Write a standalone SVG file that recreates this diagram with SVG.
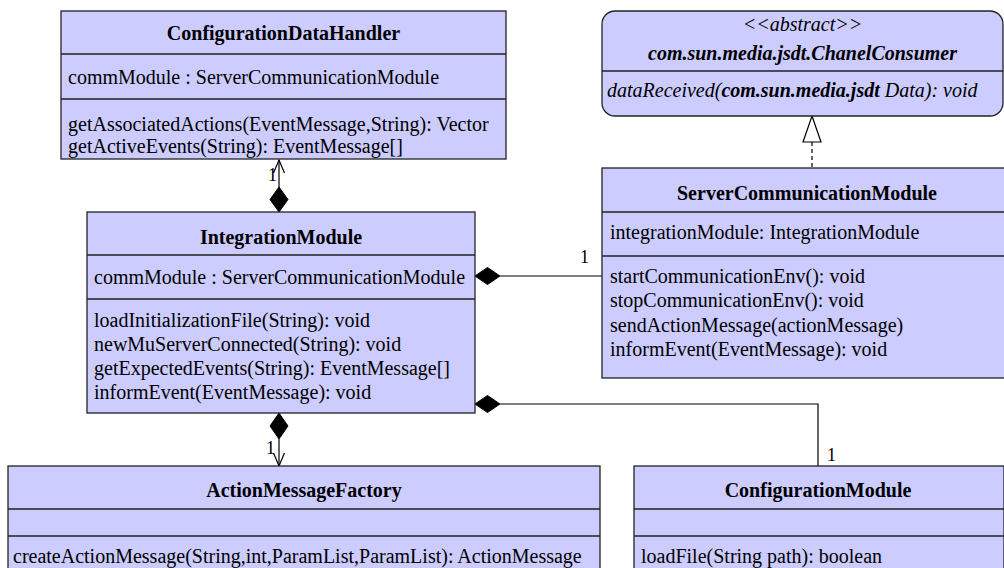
<svg xmlns="http://www.w3.org/2000/svg" width="1004" height="568" viewBox="0 0 1004 568">
<style>
.box{fill:#ccccff;stroke:#222;stroke-width:1.3}
.sep{stroke:#222;stroke-width:1.3}
.t{font-family:"Liberation Serif","Times New Roman",serif;font-size:20px;fill:#000}
.title{font-weight:bold;text-anchor:middle}
.it{font-style:italic}
.line{fill:none;stroke:#000;stroke-width:1.2}
.dia{fill:#000;stroke:#000;stroke-width:1}
.lbl{font-family:"Liberation Serif","Times New Roman",serif;font-size:18px;fill:#000}
</style>
<rect width="1004" height="568" fill="#fff"/>
<g id="connectors">
  <!-- CDH - IM -->
  <line class="line" x1="279" y1="160" x2="279" y2="188"/>
  <polyline class="line" points="273.5,173 279,160 284.5,173"/>
  <polygon class="dia" points="279,187 288,199.5 279,212 270,199.5"/>
  <text class="lbl" x="277" y="181" text-anchor="end">1</text>
  <!-- IM - AMF -->
  <polygon class="dia" points="279,413 288,426 279,439 270,426"/>
  <line class="line" x1="279" y1="439" x2="279" y2="466"/>
  <polyline class="line" points="273.5,453 279,466 284.5,453"/>
  <text class="lbl" x="275" y="454" text-anchor="end">1</text>
  <!-- IM - SCM -->
  <polygon class="dia" points="475,276 487.5,267.5 500,276 487.5,284.5"/>
  <line class="line" x1="500" y1="276" x2="602" y2="276"/>
  <text class="lbl" x="580" y="263">1</text>
  <!-- IM - CM -->
  <polygon class="dia" points="475,404 487.5,395.5 500,404 487.5,412.5"/>
  <polyline class="line" points="500,404 818,404 818,466"/>
  <text class="lbl" x="827" y="461">1</text>
  <!-- realization SCM - abstract -->
  <line class="line" x1="812" y1="142" x2="812" y2="168" stroke-dasharray="4,3"/>
  <polygon points="812,116 821,142 803,142" fill="#fff" stroke="#000" stroke-width="1.2"/>
</g>
<g id="ConfigurationDataHandler">
  <rect class="box" x="61" y="11" width="445" height="148"/>
  <line class="sep" x1="61" y1="54" x2="506" y2="54"/>
  <line class="sep" x1="61" y1="99" x2="506" y2="99"/>
  <text class="t title" x="283.5" y="40">ConfigurationDataHandler</text>
  <text class="t" x="68" y="84">commModule : ServerCommunicationModule</text>
  <text class="t" x="68" y="131">getAssociatedActions(EventMessage,String): Vector</text>
  <text class="t" x="68" y="153">getActiveEvents(String): EventMessage[]</text>
</g>
<g id="ChanelConsumer">
  <rect class="box" x="602" y="11" width="401" height="105" rx="13" ry="13"/>
  <line class="sep" x1="602" y1="71" x2="1003" y2="71"/>
  <text class="t it" x="802.5" y="31" text-anchor="middle">&lt;&lt;abstract&gt;&gt;</text>
  <text class="t it" x="802.5" y="60" text-anchor="middle" font-weight="bold">com.sun.media.jsdt.ChanelConsumer</text>
  <text class="t it" x="607" y="97">dataReceived(<tspan font-weight="bold">com.sun.media.jsdt</tspan> Data): void</text>
</g>
<g id="IntegrationModule">
  <rect class="box" x="87" y="212" width="388" height="201"/>
  <line class="sep" x1="87" y1="255" x2="475" y2="255"/>
  <line class="sep" x1="87" y1="299" x2="475" y2="299"/>
  <text class="t title" x="281" y="244">IntegrationModule</text>
  <text class="t" x="94" y="284">commModule : ServerCommunicationModule</text>
  <text class="t" x="94" y="327">loadInitializationFile(String): void</text>
  <text class="t" x="94" y="351">newMuServerConnected(String): void</text>
  <text class="t" x="94" y="375">getExpectedEvents(String): EventMessage[]</text>
  <text class="t" x="94" y="399">informEvent(EventMessage): void</text>
</g>
<g id="ServerCommunicationModule">
  <rect class="box" x="602" y="168" width="410" height="210"/>
  <line class="sep" x1="602" y1="212" x2="1012" y2="212"/>
  <line class="sep" x1="602" y1="256" x2="1012" y2="256"/>
  <text class="t title" x="807" y="200">ServerCommunicationModule</text>
  <text class="t" x="610" y="239">integrationModule: IntegrationModule</text>
  <text class="t" x="610" y="283">startCommunicationEnv(): void</text>
  <text class="t" x="610" y="307">stopCommunicationEnv(): void</text>
  <text class="t" x="610" y="332">sendActionMessage(actionMessage)</text>
  <text class="t" x="610" y="356">informEvent(EventMessage): void</text>
</g>
<g id="ActionMessageFactory">
  <rect class="box" x="8" y="466" width="592" height="110"/>
  <line class="sep" x1="8" y1="509" x2="600" y2="509"/>
  <line class="sep" x1="8" y1="536" x2="600" y2="536"/>
  <text class="t title" x="304" y="497">ActionMessageFactory</text>
  <text class="t" x="13" y="563">createActionMessage(String,int,ParamList,ParamList): ActionMessage</text>
</g>
<g id="ConfigurationModule">
  <rect class="box" x="634" y="466" width="370" height="110"/>
  <line class="sep" x1="634" y1="509" x2="1004" y2="509"/>
  <line class="sep" x1="634" y1="536" x2="1004" y2="536"/>
  <text class="t title" x="818" y="497">ConfigurationModule</text>
  <text class="t" x="641" y="563">loadFile(String path): boolean</text>
</g>
</svg>
